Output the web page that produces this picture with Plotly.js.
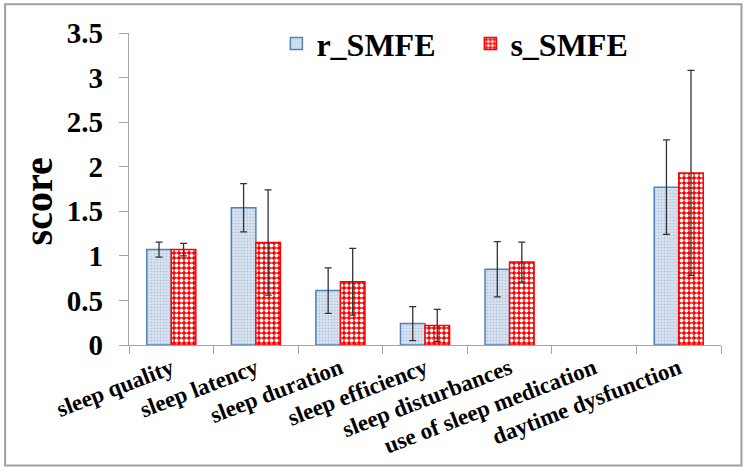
<!DOCTYPE html>
<html>
<head>
<meta charset="utf-8">
<script src="https://cdn.plot.ly/plotly-3.0.1.min.js"></script>
<style>
  html, body { margin: 0; padding: 0; background: #ffffff; }
  #chart { width: 748px; height: 473px; }
</style>
</head>
<body>
<div id="chart"></div>
<script>
const categories = ['sleep quality', 'sleep latency', 'sleep duration', 'sleep efficiency',
                    'sleep disturbances', 'use of sleep medication', 'daytime dysfunction'];
const seriesNames = ['r_SMFE', 's_SMFE'];
const rValues = [1.07, 1.54, 0.61, 0.24, 0.85, null, 1.77];
const rErrors = [0.085, 0.27, 0.255, 0.19, 0.31, null, 0.53];
const sValues = [1.07, 1.15, 0.71, 0.22, 0.93, null, 1.93];
const sErrors = [0.07, 0.59, 0.375, 0.18, 0.225, null, 1.15];
const yTicks = [0, 0.5, 1, 1.5, 2, 2.5, 3, 3.5];
const yTitle = 'score';

const serif = '"Liberation Serif", "Times New Roman", Times, serif';

const errStyle = { type: 'data', visible: true, color: '#333333', thickness: 1.3, width: 3.5 };

const traces = [
  {
    type: 'bar', name: seriesNames[0], x: categories, y: rValues,
    error_y: Object.assign({ array: rErrors }, errStyle),
    marker: {
      color: '#dce6f2',
      line: { color: '#4f81bd', width: 1.5 },
      pattern: { shape: '.', fgcolor: '#b4c7e0', bgcolor: '#dce6f2', size: 3, solidity: 0.35 }
    }
  },
  {
    type: 'bar', name: seriesNames[1], x: categories, y: sValues,
    error_y: Object.assign({ array: sErrors }, errStyle),
    marker: {
      color: '#ff0000',
      line: { color: '#ff0000', width: 1.5 },
      pattern: { shape: '.', fgcolor: '#ffffff', bgcolor: '#ff0000', size: 5, solidity: 0.5 }
    }
  }
];

const L = 128.5, R = 27, T = 33.3, B = 128;
const W = 748, H = 473;
const pw = W - L - R, ph = H - T - B;
const px = v => (v - L) / pw;
const py = v => (H - B - v) / ph;

const layout = {
  width: W, height: H,
  font: { family: serif, color: '#000000', weight: 'bold' },
  margin: { l: L, r: R, t: T, b: B, pad: 0 },
  paper_bgcolor: '#ffffff', plot_bgcolor: '#ffffff',
  barmode: 'group', bargap: 0.42, bargroupgap: 0,
  showlegend: true,
  legend: {
    orientation: 'h', x: px(276), xanchor: 'left', y: py(44), yanchor: 'middle',
    bgcolor: 'rgba(0,0,0,0)', entrywidth: 149, entrywidthmode: 'pixels',
    font: { family: serif, size: 32, color: '#000000', weight: 'bold' }
  },
  xaxis: {
    type: 'category', tickson: 'boundaries', ticks: 'outside', ticklen: 8, tickcolor: '#a6a6a6',
    showline: true, linecolor: '#a6a6a6', linewidth: 1.2, showgrid: false, zeroline: false,
    tickangle: -21, automargin: false,
    tickfont: { family: serif, size: 23, color: '#000000', weight: 'bold' }
  },
  yaxis: {
    range: [0, 3.5], tickvals: yTicks, ticktext: yTicks.map(String),
    ticks: 'outside', ticklen: 9, tickcolor: '#a6a6a6', ticklabelstandoff: 10,
    showline: true, linecolor: '#a6a6a6', linewidth: 1.2, showgrid: false, zeroline: false,
    automargin: false,
    tickfont: { family: serif, size: 29, color: '#000000', weight: 'bold' }
  },
  annotations: [
    { text: yTitle, textangle: -90, xref: 'paper', yref: 'paper', x: px(38), y: py(202),
      xanchor: 'center', yanchor: 'middle', showarrow: false,
      font: { family: serif, size: 40, color: '#000000', weight: 'bold' } }
  ],
  shapes: [
    { type: 'rect', xref: 'paper', yref: 'paper', x0: px(4.5), x1: px(741.5), y0: py(465.5), y1: py(4.5),
      line: { color: '#a0a0a0', width: 2 }, fillcolor: 'rgba(0,0,0,0)', layer: 'below' }
  ]
};

Plotly.newPlot('chart', traces, layout, { displayModeBar: false, staticPlot: true });
</script>
</body>
</html>
